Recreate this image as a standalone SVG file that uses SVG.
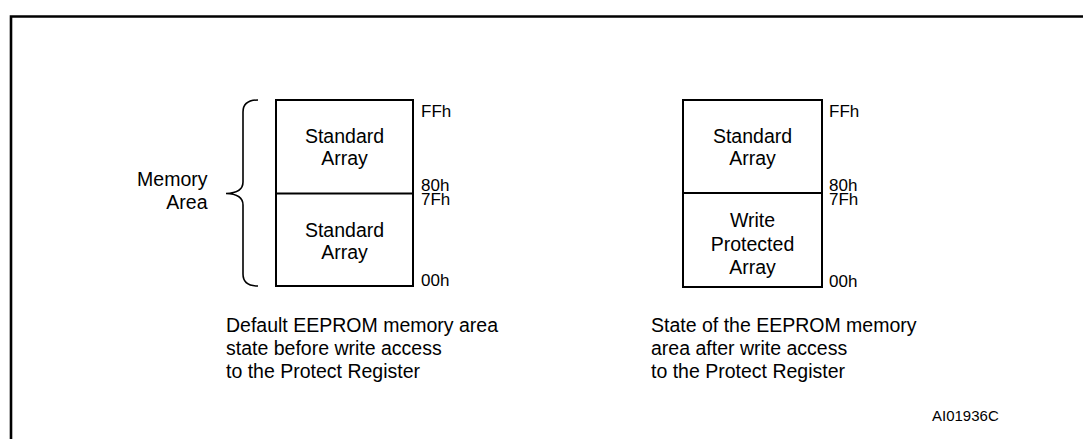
<svg xmlns="http://www.w3.org/2000/svg" width="1083" height="439" viewBox="0 0 1083 439">
<style>
  text { font-family: "Liberation Sans", Arial, sans-serif; fill: #000; }
  .t { font-size: 19.5px; }
  .c { text-anchor: middle; }
  .r { text-anchor: end; }
  .addr { font-size: 17px; }
  .box { fill: #fff; stroke: #000; stroke-width: 2; }
  .ln { fill: none; stroke: #000; stroke-width: 2; }
  .brace { fill: none; stroke: #000; stroke-width: 1.6; }
</style>
<rect width="1083" height="439" fill="#fff"/>
<g id="frame">
  <path d="M11,439 L11,16.5 L1083,16.5" fill="none" stroke="#000" stroke-width="2.6"/>
</g>
<g id="memory-area-label">
  <text class="t r" x="207.5" y="185.5">Memory</text>
  <text class="t r" x="207.5" y="208.5">Area</text>
</g>
<g id="connectors">
  <path class="brace" d="M258,100 Q243,100 243,112 L243,182 Q243,193 226,193.5 Q243,194 243,205 L243,274 Q243,286 258,286"/>
</g>
<g id="left-map">
  <rect class="box" x="276" y="100" width="137" height="186"/>
  <line class="ln" x1="276" y1="193.5" x2="413" y2="193.5"/>
  <text class="t c" x="344.5" y="143">Standard</text>
  <text class="t c" x="344.5" y="165">Array</text>
  <text class="t c" x="344.5" y="237">Standard</text>
  <text class="t c" x="344.5" y="259">Array</text>
  <text class="addr" x="421" y="117">FFh</text>
  <text class="addr" x="421" y="190.5">80h</text>
  <text class="addr" x="421" y="204.5">7Fh</text>
  <text class="addr" x="421" y="286">00h</text>
</g>
<g id="right-map">
  <rect class="box" x="683" y="100" width="139" height="187"/>
  <line class="ln" x1="683" y1="193" x2="822" y2="193"/>
  <text class="t c" x="752.5" y="142.5">Standard</text>
  <text class="t c" x="752.5" y="164.5">Array</text>
  <text class="t c" x="752.5" y="227">Write</text>
  <text class="t c" x="752.5" y="250.5">Protected</text>
  <text class="t c" x="752.5" y="273.5">Array</text>
  <text class="addr" x="829" y="117">FFh</text>
  <text class="addr" x="829" y="190.5">80h</text>
  <text class="addr" x="829" y="204.5">7Fh</text>
  <text class="addr" x="829" y="286.5">00h</text>
</g>
<g id="left-caption">
  <text class="t" x="226" y="332">Default EEPROM memory area</text>
  <text class="t" x="226" y="355">state before write access</text>
  <text class="t" x="226" y="378">to the Protect Register</text>
</g>
<g id="right-caption">
  <text class="t" x="651" y="332">State of the EEPROM memory</text>
  <text class="t" x="651" y="355">area after write access</text>
  <text class="t" x="651" y="378">to the Protect Register</text>
</g>
<g id="figure-id">
  <text x="932" y="420.5" font-size="15px">AI01936C</text>
</g>
</svg>
